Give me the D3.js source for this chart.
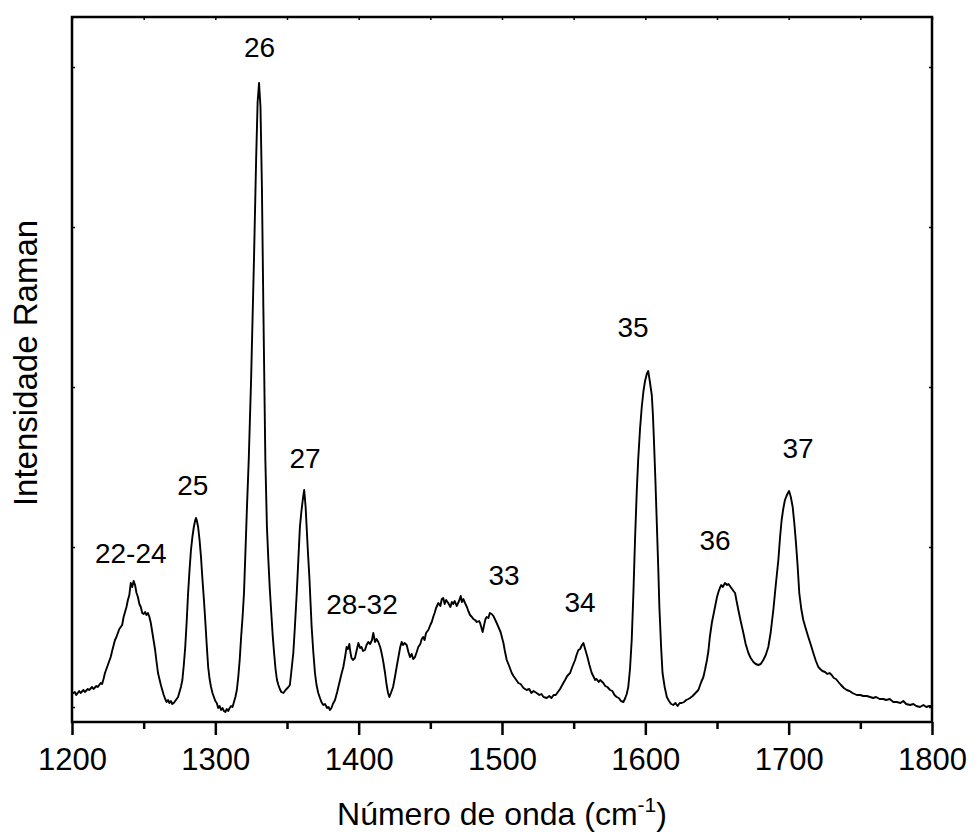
<!DOCTYPE html>
<html>
<head>
<meta charset="utf-8">
<script src="https://cdn.jsdelivr.net/npm/d3@7"></script>
<style>
  body { margin: 0; background: #fff; }
  text { font-family: "Liberation Sans", Arial, sans-serif; fill: #000; }
</style>
</head>
<body>
<svg id="chart"></svg>
<script>
// Raman spectrum (arbitrary intensity units)
const wavenumber = [
  1200, 1202, 1203, 1205, 1206, 1208, 1209, 1211, 1212, 1214,
  1215, 1217, 1218, 1220, 1221, 1222, 1223, 1225, 1227, 1228,
  1230, 1231, 1233, 1235, 1236, 1237, 1238, 1239, 1240, 1241,
  1242, 1243, 1244, 1245, 1246, 1247, 1248, 1249, 1250, 1251,
  1252, 1253, 1254, 1255, 1256, 1257, 1258, 1259, 1260, 1261,
  1262, 1263, 1264, 1265, 1266, 1267, 1268, 1269, 1270, 1271,
  1272, 1273, 1274, 1275, 1276, 1277, 1278, 1279, 1280, 1281,
  1282, 1283, 1284, 1285, 1286, 1286.5, 1287, 1288, 1289, 1290,
  1291, 1292, 1293, 1294, 1295, 1296, 1297, 1298, 1299, 1300,
  1301, 1302, 1303, 1304, 1305, 1306, 1307, 1308, 1309, 1310,
  1311, 1312, 1313, 1314, 1315, 1316, 1317, 1318, 1319, 1320,
  1321, 1322, 1323.3, 1325, 1327, 1328.5, 1329.5, 1330.5, 1331.5, 1332.5,
  1333.5, 1334.9, 1336, 1337, 1338, 1339, 1340, 1341, 1342, 1343,
  1344, 1345, 1346, 1347.5, 1349, 1351, 1352, 1353, 1354.4, 1355.5,
  1356.8, 1358, 1359, 1360, 1361, 1362, 1363, 1363.7, 1364.6, 1365.6,
  1366.4, 1367.2, 1368.3, 1369.5, 1370.6, 1371.8, 1373, 1374, 1375.3, 1376.5,
  1378, 1379, 1380, 1381, 1382, 1383.5, 1385, 1387, 1388, 1389.3,
  1390.5, 1391.6, 1392.5, 1393.5, 1394.2, 1395, 1396, 1397.4, 1398.5, 1399.8,
  1401, 1402, 1403, 1404.4, 1405.5, 1406.7, 1408, 1409.3, 1410.2, 1411.4,
  1412.5, 1413.7, 1415, 1416, 1417.2, 1418.4, 1419.5, 1420.5, 1421.4, 1422.5,
  1424, 1425.3, 1426.5, 1428, 1429, 1430, 1431, 1432, 1433.5, 1434.7,
  1435.8, 1437, 1438, 1439.3, 1440.5, 1441.6, 1443, 1444, 1445, 1446,
  1447, 1448.6, 1450, 1451, 1452, 1453, 1454, 1455.6, 1457, 1458,
  1459, 1460, 1461, 1462.5, 1464, 1465, 1466, 1467, 1468.4, 1470,
  1471.2, 1472, 1473, 1474.2, 1475.5, 1476.5, 1477.7, 1479, 1480, 1481.2,
  1482.5, 1484, 1484.7, 1485.5, 1486.5, 1487.5, 1488.5, 1489.3, 1490.5, 1491.5,
  1492.8, 1494, 1495, 1496.3, 1497.5, 1499, 1501, 1502, 1503.3, 1505,
  1506.8, 1508, 1509.5, 1511.4, 1513, 1515, 1517.2, 1519, 1520.5, 1522,
  1524.2, 1526, 1527.5, 1529, 1531.2, 1533, 1534.5, 1536, 1537.5, 1539,
  1540.5, 1542.8, 1544, 1545.5, 1547.5, 1549, 1551, 1552, 1553.3, 1554.5,
  1555.8, 1556.8, 1558, 1559.6, 1561, 1562.6, 1564, 1565, 1566, 1567.5,
  1568.5, 1570.7, 1572, 1573.5, 1575.4, 1577, 1578.5, 1580, 1581.5, 1583,
  1584.7, 1586, 1587, 1588.1, 1589.3, 1590.5, 1591.7, 1592.8, 1594, 1595,
  1596.3, 1597.5, 1598.7, 1599.8, 1601, 1602, 1603, 1604.5, 1605.3, 1606,
  1607, 1608, 1609, 1609.8, 1611, 1612, 1613.5, 1615, 1616.5, 1618,
  1619.5, 1621, 1622.5, 1624, 1625.4, 1627, 1628.5, 1630, 1631.2, 1633,
  1635, 1637, 1639, 1640.5, 1641.6, 1643, 1644, 1645, 1646.5, 1647.5,
  1648.6, 1650, 1651, 1652, 1653, 1654, 1655.6, 1657, 1658, 1659,
  1660.5, 1661.5, 1662.6, 1663.8, 1664.9, 1666.5, 1668.4, 1670, 1671.9, 1673.5,
  1675.4, 1677, 1678.8, 1680.5, 1682.3, 1684, 1685.8, 1687.5, 1689.3, 1691,
  1692.8, 1694, 1695.1, 1696.2, 1697.4, 1698.5, 1699.5, 1700.3, 1701.5, 1702.8,
  1704, 1705.1, 1706.3, 1707.4, 1708.8, 1710.2, 1712, 1713.7, 1715.5, 1717.2,
  1719, 1720.7, 1722, 1723.5, 1725.4, 1727, 1728.5, 1730, 1731.5, 1733,
  1734.7, 1736.5, 1738.5, 1740.5, 1742.5, 1744.5, 1747.5, 1750, 1752, 1754.5,
  1756.8, 1759, 1761, 1763.5, 1766, 1768, 1770.5, 1773, 1775.4, 1778,
  1780, 1782, 1784.7, 1787, 1789, 1791.6, 1794, 1796, 1798, 1800
];
const intensity = [
  13, 15, 12, 16, 14, 17, 15, 18, 17, 20,
  18, 21, 20, 24, 23, 28, 34, 42, 50, 56,
  67, 70, 78, 82, 90, 95, 100, 107, 112, 124,
  120, 126, 122, 114, 110, 103, 100, 94, 93, 95,
  92, 94, 90, 84, 75, 66, 57, 45, 34, 28,
  22, 17, 12, 8, 5, 7, 4, 6, 3, 4,
  6, 8, 10, 15, 20, 27, 42, 60, 85, 114,
  137, 157, 170, 180, 187, 189, 187, 180, 167, 150,
  128, 108, 86, 62, 40, 28, 20, 14, 10, 6,
  4, -1, 1, -3, -1, -4, -5, -2, -4, -1,
  1, 0, 5, 10, 17, 30, 47, 70, 90, 114,
  155, 197, 247, 330, 450, 550, 605, 624, 600, 520,
  400, 247, 180, 147, 118, 95, 72, 54, 38, 27,
  22, 18, 15, 14, 17, 20, 22, 35, 54, 80,
  114, 150, 180, 195, 207, 217, 200, 180, 155, 130,
  105, 80, 56, 34, 22, 14, 9, 5, 2, 3,
  -1, 0, -3, -1, 3, 7, 15, 27, 33, 40,
  50, 60, 58, 63, 55, 49, 47, 49, 56, 64,
  59, 60, 56, 57, 62, 65, 63, 67, 74, 65,
  68, 65, 60, 54, 45, 34, 22, 14, 10, 14,
  20, 30, 40, 52, 60, 65, 62, 64, 62, 55,
  50, 53, 48, 50, 55, 60, 63, 68, 70, 67,
  74, 77, 82, 85, 90, 94, 99, 104, 101, 108,
  109, 103, 107, 104, 100, 105, 103, 106, 101, 106,
  111, 105, 108, 104, 100, 96, 92, 90, 88, 87,
  85, 86, 84, 80, 75, 82, 88, 90, 89, 94,
  93, 91, 88, 84, 80, 75, 64, 56, 47, 41,
  34, 31, 28, 24, 23, 19, 17, 18, 14, 16,
  14, 12, 13, 10, 9, 11, 9, 12, 12, 15,
  18, 24, 27, 31, 34, 40, 47, 52, 57, 58,
  62, 64, 58, 50, 42, 34, 30, 27, 28, 25,
  27, 24, 21, 20, 17, 16, 12, 10, 9, 6,
  5, 9, 13, 20, 38, 67, 115, 167, 215, 247,
  278, 300, 316, 326, 333, 336, 327, 312, 292, 267,
  228, 184, 140, 100, 60, 34, 20, 10, 6, 3,
  2, 4, 1, 4, 4, 5, 7, 8, 9, 11,
  14, 17, 25, 30, 37, 47, 56, 70, 85, 92,
  100, 110, 115, 119, 122, 120, 124, 122, 123, 121,
  118, 116, 114, 105, 97, 86, 74, 63, 54, 49,
  45, 43, 42, 43, 47, 52, 60, 75, 97, 122,
  147, 170, 187, 198, 207, 211, 214, 216, 210, 200,
  183, 164, 140, 114, 98, 87, 78, 70, 62, 54,
  46, 40, 38, 36, 35, 33, 34, 32, 29, 28,
  25, 22, 19, 17, 16, 14, 12, 12, 11, 11,
  10, 9, 10, 8, 8, 7, 8, 5, 5, 4,
  6, 3, 2, 3, 1, 0, 2, 0, 1, 1
];

// band assignments and where their labels sit (data units)
const bandLabels = ["22-24", "25", "26", "27", "28-32", "33", "34", "35", "36", "37"];
const bandLabelX = [1241, 1284.3, 1330.8, 1362.6, 1402.3, 1501.4, 1554.4, 1591.4, 1648.6, 1706.5];
const bandLabelY = [144, 212, 650, 239, 93, 122, 95, 370, 157, 249];

const xMajorTicks = [1200, 1300, 1400, 1500, 1600, 1700, 1800];
const xMinorTicks = [1250, 1350, 1450, 1550, 1650, 1750];
const yTicks = [0, 160, 320, 480, 640];

const margin = { top: 17, right: 43, bottom: 111, left: 72 },
      width = 975 - margin.left - margin.right,
      height = 833 - margin.top - margin.bottom;

const svg = d3.select("#chart")
              .attr("width", width + margin.left + margin.right)
              .attr("height", height + margin.top + margin.bottom);

const g = svg.append("g")
             .attr("transform", `translate(${margin.left}, ${margin.top})`);

const xScale = d3.scaleLinear().domain([1200, 1800]).range([0, width]);
const yScale = d3.scaleLinear().domain([-15, 690]).range([height, 0]);

const spectrum = wavenumber.map((w, i) => ({ w: w, v: intensity[i] }));

// small inward ticks on top, left and right
g.append("g")
 .call(d3.axisTop(xScale).tickValues(xMajorTicks.concat(xMinorTicks)).tickSize(-3).tickFormat(""))
 .call(a => a.select(".domain").remove());

g.append("g")
 .call(d3.axisLeft(yScale).tickValues(yTicks).tickSize(-3).tickFormat(""))
 .call(a => a.select(".domain").remove());

g.append("g")
 .attr("transform", `translate(${width}, 0)`)
 .call(d3.axisRight(yScale).tickValues(yTicks).tickSize(-3).tickFormat(""))
 .call(a => a.select(".domain").remove());

g.selectAll(".tick line").attr("stroke-width", 1.5);

// bottom axis, outward ticks
const xAxis = g.append("g")
               .attr("transform", `translate(0, ${height})`)
               .call(d3.axisBottom(xScale).tickValues(xMajorTicks).tickSize(13).tickFormat(d3.format("d")));
xAxis.select(".domain").remove();
xAxis.selectAll(".tick line").attr("stroke-width", 2.5);
xAxis.selectAll("text")
     .attr("y", 48)
     .attr("dy", 0)
     .style("font-size", "31px")
     .style("font-family", '"Liberation Sans", Arial, sans-serif');

g.append("g")
 .attr("transform", `translate(0, ${height})`)
 .call(d3.axisBottom(xScale).tickValues(xMinorTicks).tickSize(7).tickFormat(""))
 .call(a => a.select(".domain").remove())
 .selectAll(".tick line").attr("stroke-width", 2.5);

// frame
g.append("rect")
 .attr("width", width)
 .attr("height", height)
 .attr("fill", "none")
 .attr("stroke", "#000")
 .attr("stroke-width", 2.5);

const line = d3.line()
               .x(d => xScale(d.w))
               .y(d => yScale(d.v));

g.append("path")
 .datum(spectrum)
 .attr("fill", "none")
 .attr("stroke", "#000")
 .attr("stroke-width", 1.9)
 .attr("stroke-linejoin", "round")
 .attr("d", line);

g.selectAll(".band-label")
 .data(bandLabels)
 .join("text")
 .attr("class", "band-label")
 .attr("x", (d, i) => xScale(bandLabelX[i]))
 .attr("y", (d, i) => yScale(bandLabelY[i]))
 .attr("text-anchor", "middle")
 .style("font-size", "28px")
 .text(d => d);

// axis titles
const xTitle = g.append("text")
                .attr("x", width / 2)
                .attr("y", 808)
                .attr("text-anchor", "middle")
                .style("font-size", "32px");
xTitle.append("tspan").text("Número de onda (cm");
xTitle.append("tspan").attr("dy", -13).style("font-size", "21px").text("-1");
xTitle.append("tspan").attr("dy", 13).text(")");

g.append("text")
 .attr("transform", "rotate(-90)")
 .attr("x", -346)
 .attr("y", -35)
 .attr("text-anchor", "middle")
 .style("font-size", "33px")
 .text("Intensidade Raman");
</script>
</body>
</html>
